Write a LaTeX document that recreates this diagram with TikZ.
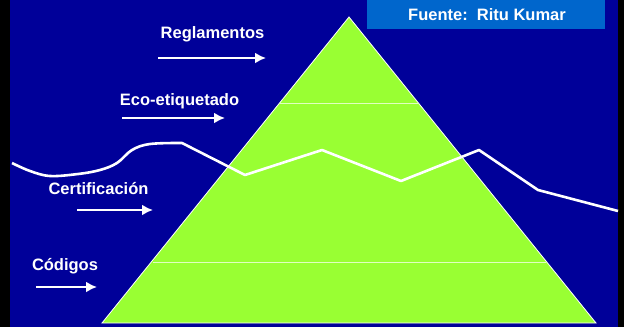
\documentclass[tikz,border=0pt]{standalone}
\usepackage{fontspec}
\setmainfont{Liberation Sans}
\usetikzlibrary{positioning,arrows.meta}
\definecolor{slideblue}{HTML}{000099}
\definecolor{boxblue}{HTML}{0066CC}
\definecolor{pyrgreen}{HTML}{99FF33}
\tikzstyle{lbl}=[text=white,font=\fontsize{16.5}{18}\selectfont\bfseries,inner sep=0pt]
\tikzstyle{arr}=[draw=white,line width=2.8pt,-{Latex[length=11pt,width=11pt]}]
\tikzstyle{layer}=[draw=white!70!pyrgreen,line width=1pt]
\newcommand{\newLevel}[5]{\node[lbl](#1) at (#3) {#2};
  \coordinate (#1s) at (#4); \coordinate (#1e) at (#5);
  \draw[arr] (#1s) -- (#1e);}

\begin{document}
\begin{tikzpicture}[x=1pt,y=-1pt]
      \useasboundingbox (0,0) rectangle (624,327);
      \fill[black] (0,0) rectangle (624,327);
      \fill[slideblue] (10,0) rectangle (618,327);
      % pyramid
      \coordinate (top) at (349,17);
      \coordinate (bl) at (102,323);
      \coordinate (br) at (596,323);
      \filldraw[fill=pyrgreen,draw=white,line width=0.8pt] (top) -- (bl) -- (br) -- cycle;
      \draw[layer] (279.6,103) -- (418.4,103);
      \draw[layer] (153,262) -- (546,262);
      % wave
      \draw[white,line width=2.6pt,line join=round]
        plot[smooth,tension=0.6] coordinates {(12,163) (30,171) (50,176) (78,174) (100,170) (117,163) (132,150) (150,144) (182,143)}
        -- (245,175) -- (322,150) -- (401,181) -- (479,150) -- (538,190) -- (618,211);
      % source box
      \node[fill=boxblue,minimum width=238pt,minimum height=29pt,inner sep=0pt] (src) at (486,14.5) {};
      \node[lbl] (srctxt) at (487,15) {Fuente:\ \ Ritu Kumar};
      % levels
      \newLevel{regl}{Reglamentos}{212.5,34}{158,58}{266,58}
      \newLevel{eco}{Eco-etiquetado}{179.5,101}{122,118}{225,118}
      \newLevel{cert}{Certificación}{98.5,189}{77,210}{153,210}
      \newLevel{cod}{Códigos}{65,266}{36,287}{97,287}
    \end{tikzpicture}
\end{document}
